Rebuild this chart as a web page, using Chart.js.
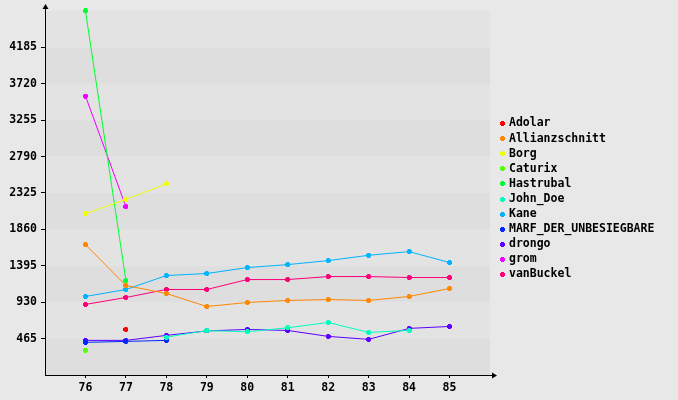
<!DOCTYPE html>
<html>
<head>
<meta charset="utf-8">
<script src="https://cdn.jsdelivr.net/npm/chart.js@4"></script>
<style>
  html, body { margin: 0; padding: 0; background: #e8e8e8; }
  #wrap { width: 678px; height: 400px; }
</style>
</head>
<body>
<div id="wrap"><canvas id="chart" width="678" height="400"></canvas></div>
<script>
// rounds on the x axis
var rounds = [76, 77, 78, 79, 80, 81, 82, 83, 84, 85];
var yStep = 465;
var yMax = 4650;

var names = ['Adolar', 'Allianzschnitt', 'Borg', 'Caturix', 'Hastrubal', 'John_Doe',
             'Kane', 'MARF_DER_UNBESIEGBARE', 'drongo', 'grom', 'vanBuckel'];
var colors = ['#ff0000', '#ff8800', '#eeff00', '#55ff00', '#00ff30', '#00ffbb',
              '#00b4ff', '#0028ff', '#5c00ff', '#ee00ff', '#ff0078'];

var adolar        = [null, 582, null, null, null, null, null, null, null, null];
var allianz       = [1665, 1143, 1041, 875, 926, 952, 964, 952, 1003, 1105];
var borg          = [2060, 2242, 2442, null, null, null, null, null, null, null];
var caturix       = [315, null, null, null, null, null, null, null, null, null];
var hastrubal     = [4650, 1206, null, null, null, null, null, null, null, null];
var johnDoe       = [null, null, 484, 567, 552, 603, 671, 544, 569, null];
var kane          = [1003, 1092, 1270, 1296, 1372, 1410, 1461, 1529, 1576, 1436];
var marf          = [417, 429, 442, null, null, null, null, null, null, null];
var drongo        = [442, 442, 506, 563, 582, 569, 493, 455, 595, 620];
var grom          = [3563, 2149, null, null, null, null, null, null, null, null];
var vanBuckel     = [901, 990, 1092, 1092, 1219, 1219, 1257, 1257, 1245, 1245];

var series = [adolar, allianz, borg, caturix, hastrubal, johnDoe, kane, marf, drongo, grom, vanBuckel];

var font = { family: 'DejaVu Sans Mono', size: 11.5, weight: 'bold' };

// little plus shaped marker
function marker(col) {
    var c = document.createElement('canvas');
    c.width = 5; c.height = 5;
    var g = c.getContext('2d');
    g.fillStyle = col;
    g.fillRect(1, 0, 3, 5);
    g.fillRect(0, 1, 5, 3);
    return c;
}

var datasets = [];
for (var i = 0; i < names.length; i++) {
    var m = marker(colors[i]);
    datasets.push({
        label: names[i],
        data: series[i],
        borderColor: colors[i],
        backgroundColor: colors[i],
        borderWidth: 1,
        pointStyle: m,
        pointRadius: 3,
        spanGaps: false,
        clip: false,
        tension: 0
    });
}

var bands = {
    id: 'bands',
    beforeDraw: function(chart) {
        var ctx = chart.ctx, a = chart.chartArea, y = chart.scales.y;
        ctx.save();
        ctx.fillStyle = '#e8e8e8';
        ctx.fillRect(0, 0, chart.width, chart.height);
        for (var v = 0; v < yMax; v += yStep) {
            var y0 = y.getPixelForValue(v);
            var y1 = Math.max(y.getPixelForValue(v + yStep), a.top);
            ctx.fillStyle = (v / yStep) % 2 === 0 ? '#dedede' : '#e3e3e3';
            ctx.fillRect(a.left, y1, a.right - a.left, y0 - y1);
        }
        ctx.restore();
    },
    afterDraw: function(chart) {
        var ctx = chart.ctx, a = chart.chartArea;
        ctx.save();
        ctx.strokeStyle = '#000';
        ctx.fillStyle = '#000';
        ctx.lineWidth = 1;
        // y axis arrow
        ctx.beginPath();
        ctx.moveTo(a.left + 0.5, a.bottom);
        ctx.lineTo(a.left + 0.5, 5);
        ctx.stroke();
        ctx.beginPath();
        ctx.moveTo(a.left + 0.5, 4);
        ctx.lineTo(a.left - 2.5, 9);
        ctx.lineTo(a.left + 3.5, 9);
        ctx.closePath();
        ctx.fill();
        // x axis arrow
        ctx.beginPath();
        ctx.moveTo(a.left, a.bottom + 0.5);
        ctx.lineTo(a.right + 5, a.bottom + 0.5);
        ctx.stroke();
        ctx.beginPath();
        ctx.moveTo(a.right + 7, a.bottom + 0.5);
        ctx.lineTo(a.right + 2, a.bottom - 2.5);
        ctx.lineTo(a.right + 2, a.bottom + 3.5);
        ctx.closePath();
        ctx.fill();

        // legend
        ctx.font = 'bold 11.5px "DejaVu Sans Mono"';
        ctx.textBaseline = 'middle';
        ctx.textAlign = 'left';
        chart.data.datasets.forEach(function(ds, i) {
            var ly = 123 + i * 15.1;
            ctx.drawImage(ds.pointStyle, 500, Math.round(ly) - 2);
            ctx.fillStyle = '#000';
            ctx.fillText(ds.label, 509, ly + 0.5);
        });
        ctx.restore();
    }
};

new Chart(document.getElementById('chart'), {
    type: 'line',
    data: { labels: rounds, datasets: datasets },
    options: {
        responsive: false,
        animation: false,
        layout: { padding: { top: 10, right: 188, left: 0, bottom: 0 } },
        plugins: { legend: { display: false }, tooltip: { enabled: false } },
        scales: {
            x: {
                type: 'linear',
                min: 75,
                max: 86,
                afterBuildTicks: function(s) {
                    s.ticks = rounds.map(function(r) { return { value: r }; });
                },
                afterFit: function(s) { s.height = 25; },
                border: { display: false },
                grid: { drawOnChartArea: false, tickLength: 3, tickColor: '#000', tickWidth: 1 },
                ticks: { color: '#000', font: font, padding: 3, maxRotation: 0,
                         callback: function(v) { return String(v); } }
            },
            y: {
                min: 0,
                max: yMax,
                afterBuildTicks: function(s) {
                    var t = [];
                    for (var v = yStep; v < yMax; v += yStep) t.push({ value: v });
                    s.ticks = t;
                },
                afterFit: function(s) { s.width = 45; },
                border: { display: false },
                grid: { drawOnChartArea: false, tickLength: 4, tickColor: '#000', tickWidth: 1 },
                ticks: { color: '#000', font: font, padding: 4,
                         callback: function(v) { return String(v); } }
            }
        }
    },
    plugins: [bands]
});
</script>
</body>
</html>
